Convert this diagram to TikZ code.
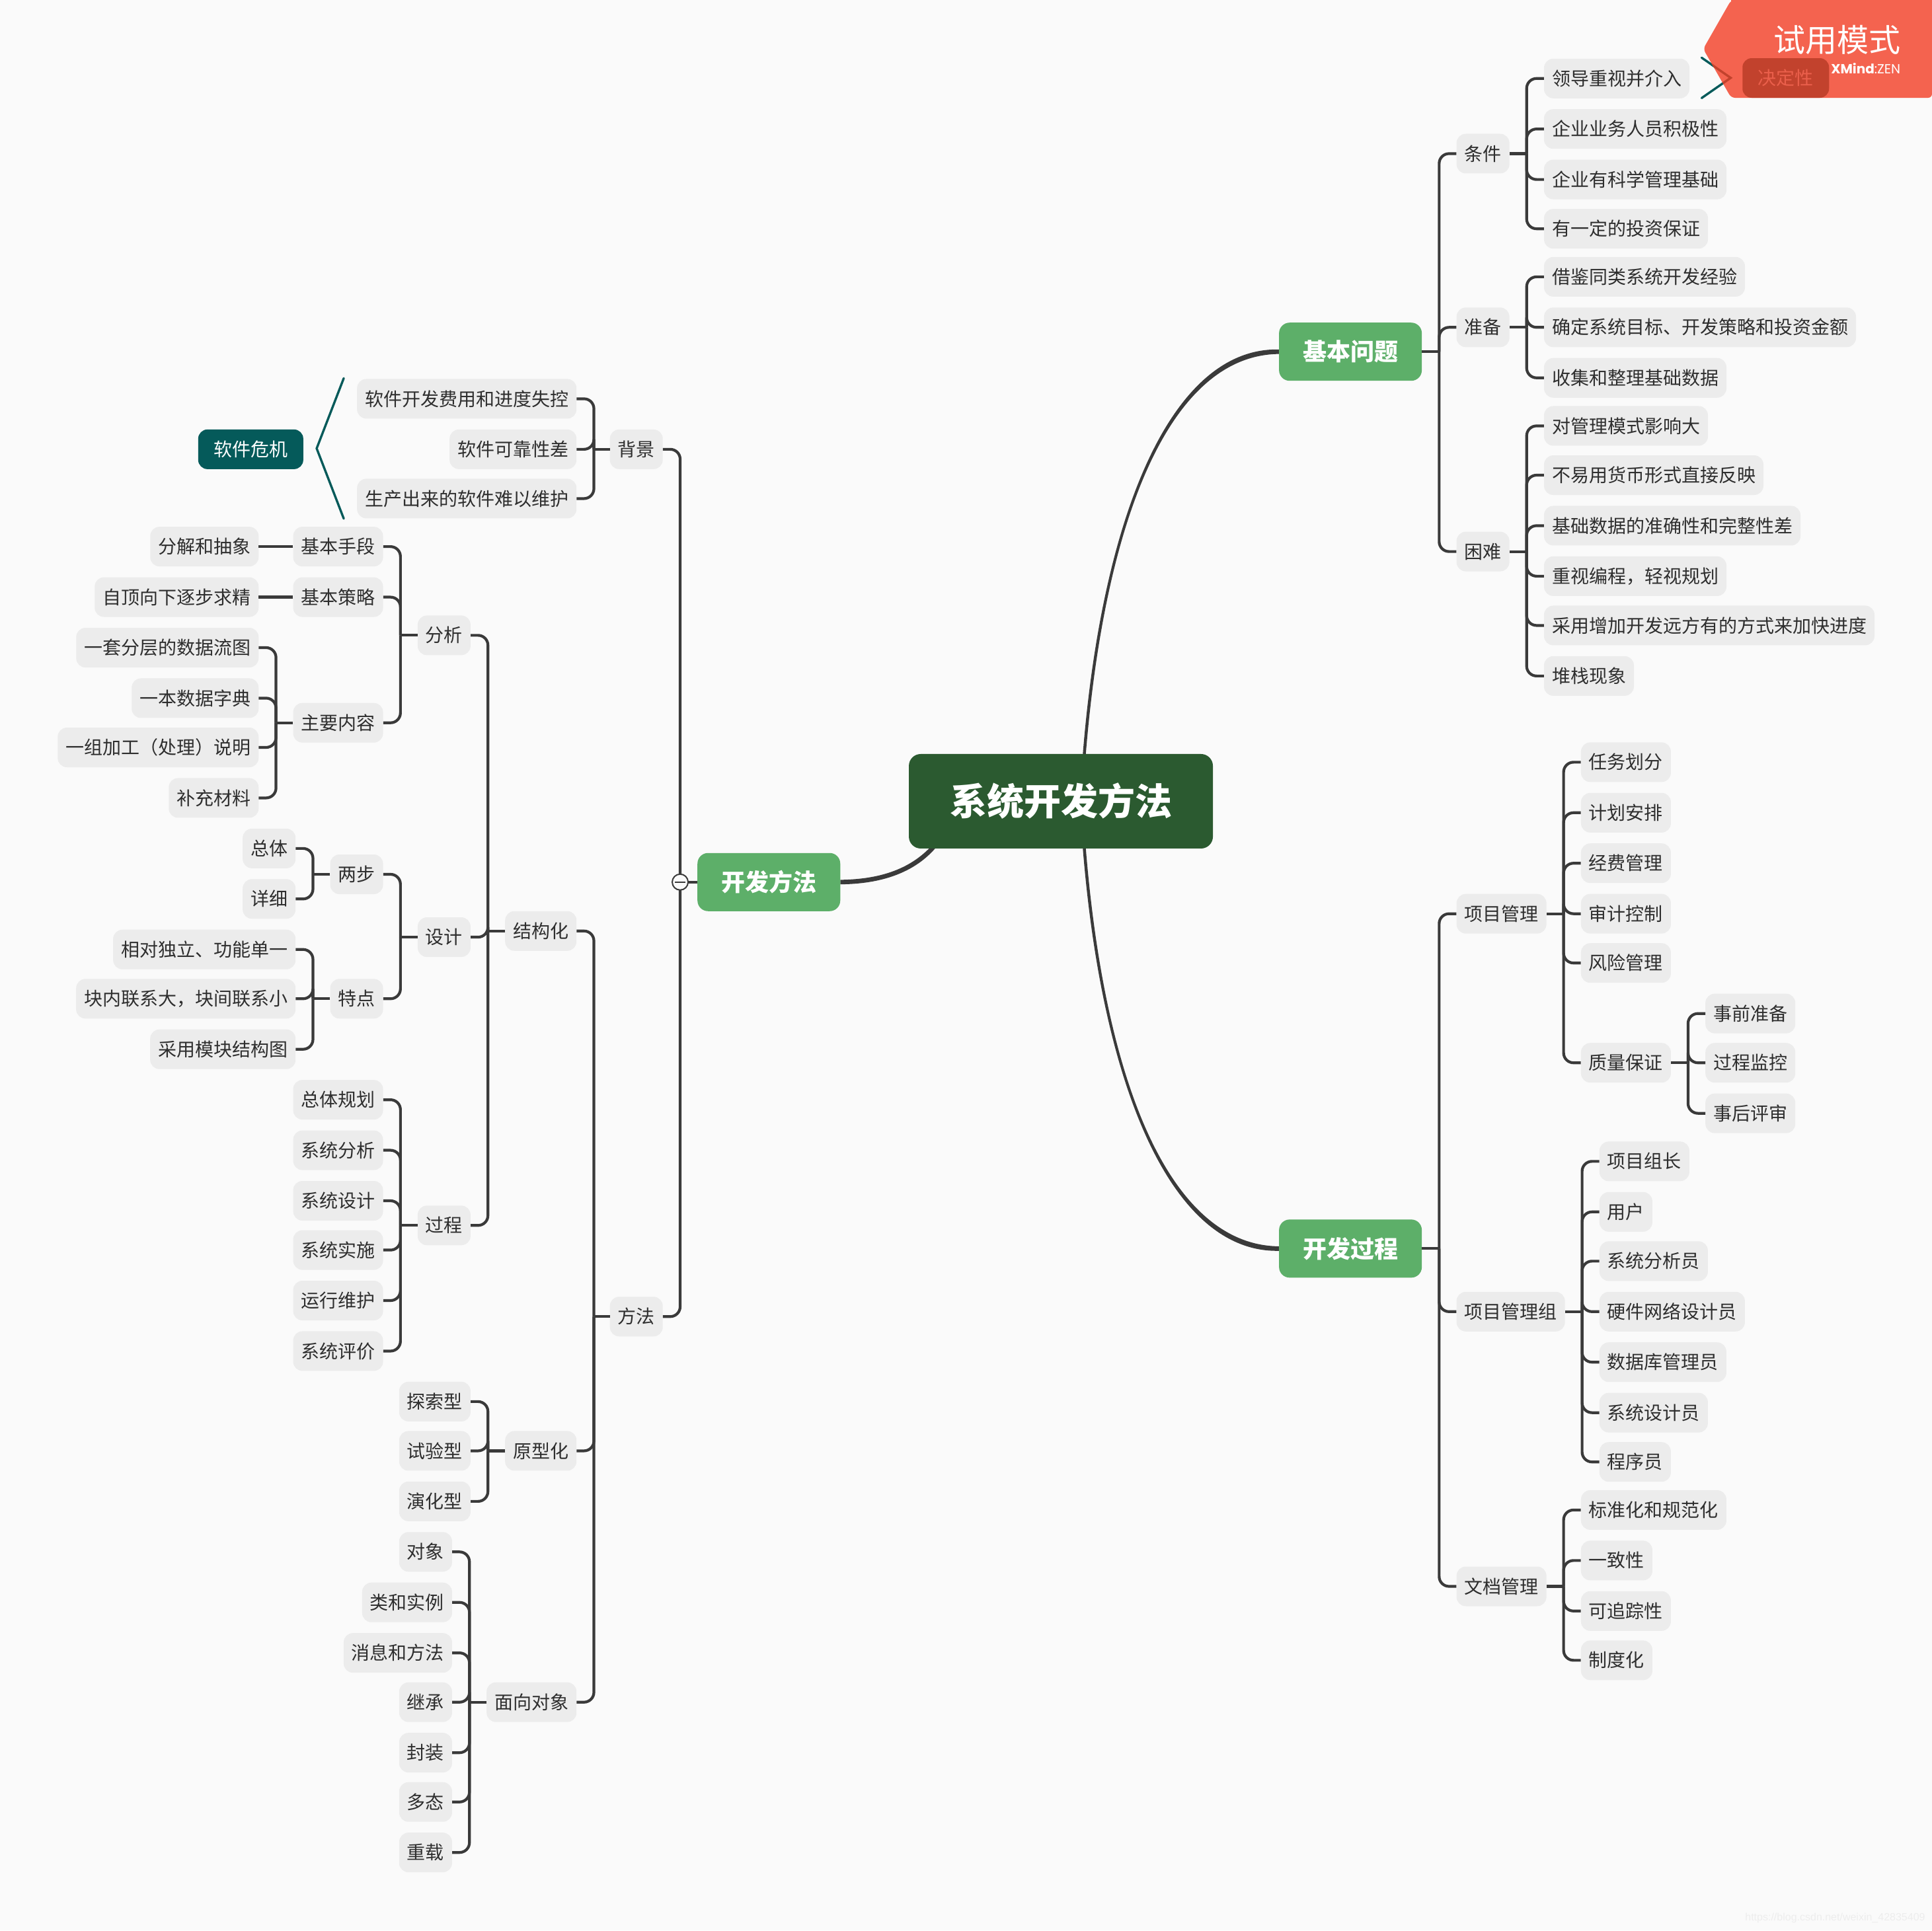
\documentclass[tikz,border=0pt]{standalone}
\usepackage{fontspec}
\setmainfont{Noto Sans CJK SC}
\newfontfamily\latinsans{Poppins}
\newfontfamily\wmfont{Liberation Sans}
\definecolor{bgc}{HTML}{FAFAFA}
\definecolor{tpc}{HTML}{ECECEC}
\definecolor{txc}{HTML}{2E2E2E}
\definecolor{lnc}{HTML}{3A3A3A}
\definecolor{grn}{HTML}{5DAF69}
\definecolor{drk}{HTML}{2B5A30}
\definecolor{tealc}{HTML}{055A5A}
\definecolor{ban}{HTML}{F4634F}
\definecolor{banD}{HTML}{C2422D}
\definecolor{banT}{HTML}{EA5F4B}
\pgfdeclarelayer{back}
\pgfsetlayers{back,main}
\tikzset{
  tp/.style={fill=tpc,text=txc,rounded corners=14pt,minimum height=60pt,inner xsep=12pt,inner ysep=0pt,
    font=\fontsize{28pt}{28pt}\selectfont,text height=24.6pt,text depth=3.4pt},
  conn/.style={draw=lnc,line width=4.2pt},
  curve/.style={fill=lnc,draw=none},
  mtopic/.style={fill=grn,text=white,rounded corners=16pt,minimum width=216pt,minimum height=88pt,inner sep=0pt,
    font=\fontsize{36pt}{36pt}\selectfont\bfseries,text height=31.7pt,text depth=4.3pt},
  bracket/.style={draw=tealc,line width=3.4pt,line cap=round},
}
\newcommand\rgt[4]{\node[tp,anchor=west] (#1) at (#2,#3+0.7) {#4};}
\newcommand\lft[4]{\node[tp,anchor=east] (#1) at (#2,#3+0.7) {#4};}
\newcommand\rtree[3]{%
  \coordinate (tx) at (#2,0);
  \draw[conn] (#1.east) -- (tx |- #1.east);
  \foreach \kid in {#3}{\draw[conn,rounded corners=15pt] (tx |- #1.east) -- (tx |- \kid.west) -- (\kid.west);}
}
\newcommand\ltree[3]{%
  \coordinate (tx) at (#2,0);
  \draw[conn] (#1.west) -- (tx |- #1.west);
  \foreach \kid in {#3}{\draw[conn,rounded corners=15pt] (tx |- #1.west) -- (tx |- \kid.east) -- (\kid.east);}
}
\begin{document}
\begin{tikzpicture}[x=1.86416pt,y=-1.86416pt]
\begin{pgfonlayer}{back}
\fill[bgc] (0,0) rectangle (1568,1567);
\end{pgfonlayer}
\useasboundingbox (0,0) rectangle (1568,1567);

% root and main topics
\node[fill=drk,text=white,rounded corners=18pt,minimum width=460pt,minimum height=143pt,inner sep=0pt,
  font=\fontsize{56pt}{56pt}\selectfont\bfseries,text height=49.3pt,text depth=6.7pt] (root) at (861,650.4) {系统开发方法};
\node[mtopic] (jb) at (1096,285.5) {基本问题};
\node[mtopic] (gc) at (1096,1013.5) {开发过程};
\node[mtopic] (ff) at (624,716) {开发方法};

% right: basic questions
\rgt{tj}{1182}{124}{条件}
\rgt{zb}{1182}{265}{准备}
\rgt{kn}{1182}{447}{困难}
\rgt{a1}{1253}{63}{领导重视并介入}
\rgt{a2}{1253}{104}{企业业务人员积极性}
\rgt{a3}{1253}{145}{企业有科学管理基础}
\rgt{a4}{1253}{185}{有一定的投资保证}
\rgt{b1}{1253}{224}{借鉴同类系统开发经验}
\rgt{b2}{1253}{265}{确定系统目标、开发策略和投资金额}
\rgt{b3}{1253}{306}{收集和整理基础数据}
\rgt{c1}{1253}{345}{对管理模式影响大}
\rgt{c2}{1253}{385}{不易用货币形式直接反映}
\rgt{c3}{1253}{426}{基础数据的准确性和完整性差}
\rgt{c4}{1253}{467}{重视编程，轻视规划}
\rgt{c5}{1253}{507}{采用增加开发远方有的方式来加快进度}
\rgt{c6}{1253}{548}{堆栈现象}
\rtree{jb}{1168}{tj,zb,kn}
\rtree{tj}{1239}{a1,a2,a3,a4}
\rtree{zb}{1239}{b1,b2,b3}
\rtree{kn}{1239}{c1,c2,c3,c4,c5,c6}

% right: process
\rgt{xm}{1182}{741}{项目管理}
\rgt{xz}{1182}{1064}{项目管理组}
\rgt{wd}{1182}{1287}{文档管理}
\rgt{d1}{1283}{618}{任务划分}
\rgt{d2}{1283}{659}{计划安排}
\rgt{d3}{1283}{700}{经费管理}
\rgt{d4}{1283}{741}{审计控制}
\rgt{d5}{1283}{781}{风险管理}
\rgt{d6}{1283}{862}{质量保证}
\rgt{e1}{1384}{822}{事前准备}
\rgt{e2}{1384}{862}{过程监控}
\rgt{e3}{1384}{903}{事后评审}
\rgt{f1}{1298}{942}{项目组长}
\rgt{f2}{1298}{983}{用户}
\rgt{f3}{1298}{1023}{系统分析员}
\rgt{f4}{1298}{1064}{硬件网络设计员}
\rgt{f5}{1298}{1105}{数据库管理员}
\rgt{f6}{1298}{1146}{系统设计员}
\rgt{f7}{1298}{1186}{程序员}
\rgt{g1}{1283}{1225}{标准化和规范化}
\rgt{g2}{1283}{1266}{一致性}
\rgt{g3}{1283}{1307}{可追踪性}
\rgt{g4}{1283}{1347}{制度化}
\rtree{gc}{1168}{xm,xz,wd}
\rtree{xm}{1269}{d1,d2,d3,d4,d5,d6}
\rtree{d6}{1370}{e1,e2,e3}
\rtree{xz}{1284}{f1,f2,f3,f4,f5,f6,f7}
\rtree{wd}{1269}{g1,g2,g3,g4}

% left
\lft{bj}{538}{364}{背景}
\lft{ffa}{538}{1068}{方法}
\lft{h1}{468}{323}{软件开发费用和进度失控}
\lft{h2}{468}{364}{软件可靠性差}
\lft{h3}{468}{404}{生产出来的软件难以维护}
\lft{jg}{468}{755}{结构化}
\lft{yx}{468}{1177}{原型化}
\lft{mx}{468}{1381}{面向对象}
\lft{fx}{382}{515}{分析}
\lft{sj}{382}{760}{设计}
\lft{gg}{382}{994}{过程}
\lft{i1}{311}{443}{基本手段}
\lft{i2}{311}{484}{基本策略}
\lft{i3}{311}{586}{主要内容}
\lft{j1}{210}{443}{分解和抽象}
\lft{j2}{210}{484}{自顶向下逐步求精}
\lft{k1}{210}{525}{一套分层的数据流图}
\lft{k2}{210}{566}{一本数据字典}
\lft{k3}{210}{606}{一组加工（处理）说明}
\lft{k4}{210}{647}{补充材料}
\lft{l1}{311}{709}{两步}
\lft{l2}{311}{810}{特点}
\lft{m1}{240}{688}{总体}
\lft{m2}{240}{729}{详细}
\lft{n1}{240}{770}{相对独立、功能单一}
\lft{n2}{240}{810}{块内联系大，块间联系小}
\lft{n3}{240}{851}{采用模块结构图}
\lft{o1}{311}{892}{总体规划}
\lft{o2}{311}{933}{系统分析}
\lft{o3}{311}{974}{系统设计}
\lft{o4}{311}{1014}{系统实施}
\lft{o5}{311}{1055}{运行维护}
\lft{o6}{311}{1096}{系统评价}
\lft{p1}{382}{1137}{探索型}
\lft{p2}{382}{1177}{试验型}
\lft{p3}{382}{1218}{演化型}
\lft{q1}{367}{1259}{对象}
\lft{q2}{367}{1300}{类和实例}
\lft{q3}{367}{1341}{消息和方法}
\lft{q4}{367}{1381}{继承}
\lft{q5}{367}{1422}{封装}
\lft{q6}{367}{1462}{多态}
\lft{q7}{367}{1503}{重载}
\ltree{ff}{552}{bj,ffa}
\ltree{bj}{482}{h1,h2,h3}
\ltree{ffa}{482}{jg,yx,mx}
\ltree{jg}{396}{fx,sj,gg}
\ltree{fx}{325}{i1,i2,i3}
\draw[conn] (i1.west) -- (j1.east);
\draw[conn] (i2.west) -- (j2.east);
\ltree{i3}{224}{k1,k2,k3,k4}
\ltree{sj}{325}{l1,l2}
\ltree{l1}{254}{m1,m2}
\ltree{l2}{254}{n1,n2,n3}
\ltree{gg}{325}{o1,o2,o3,o4,o5,o6}
\ltree{yx}{396}{p1,p2,p3}
\ltree{mx}{381}{q1,q2,q3,q4,q5,q6,q7}

% collapse marker
\node[circle,draw=lnc,fill=bgc,line width=2pt,minimum size=24pt,inner sep=0pt] (cm) at (552,716) {};
\draw[lnc,line width=2.4pt] ([xshift=5pt]cm.west) -- ([xshift=-5pt]cm.east);

% main curves
\begin{pgfonlayer}{back}
\fill[curve] ([xshift=32pt,yshift=56pt]root.center) .. controls (893,420) and (950,281.8) .. ([yshift=3.4pt]jb.west)
  -- ([yshift=-3.4pt]jb.west) .. controls (950,288.2) and (895.6,420) .. ([xshift=36.5pt,yshift=56pt]root.center) -- cycle;
\fill[curve] ([xshift=32pt,yshift=-56pt]root.center) .. controls (893,880) and (950,1017.2) .. ([yshift=-3.4pt]gc.west)
  -- ([yshift=3.4pt]gc.west) .. controls (950,1010.8) and (895.6,880) .. ([xshift=36.5pt,yshift=-56pt]root.center) -- cycle;
\fill[curve] ([xshift=-198pt,yshift=-70pt]root.center) .. controls (735,708.5) and (708,713.8) .. ([yshift=3.4pt]ff.east)
  -- ([yshift=-3.4pt]ff.east) .. controls (710,717.6) and (740,711) .. ([xshift=-189pt,yshift=-70pt]root.center) -- cycle;
\end{pgfonlayer}

% software crisis callout
\node[fill=tealc,text=white,rounded corners=14pt,minimum width=159pt,minimum height=60pt,inner sep=0pt,
  font=\fontsize{28pt}{28pt}\selectfont,text height=24.6pt,text depth=3.4pt] (rj) at (203.5,364.7) {软件危机};
\coordinate (v1a) at (279,307);
\coordinate (v1b) at (257,364);
\coordinate (v1c) at (279,421);
\draw[bracket] (v1a) -- (v1b) -- (v1c);

% top-right callout and trial banner
\coordinate (v2a) at (1381,46.8);
\coordinate (v2b) at (1404.6,63.2);
\coordinate (v2c) at (1381,79.6);
\draw[bracket] (v2a) -- (v2b) -- (v2c);
\fill[ban,rounded corners=6pt] (1405,0) -- (1382.3,39.7) -- (1405,79.4) -- (1568,79.4) -- (1568,0) -- cycle;
\fill[ban] (1405,0) rectangle (1412,3);
\fill[ban] (1560,0) rectangle (1568,3);
\begin{scope}
\clip (1405,0) -- (1382.3,39.7) -- (1405,79.4) -- (1568,79.4) -- (1568,0) -- cycle;
\draw[draw=banD,line width=3.4pt] (v2a) -- (v2b) -- (v2c);
\end{scope}
\node[fill=banD,text=banT,rounded corners=14pt,minimum width=131pt,minimum height=60pt,inner sep=0pt,
  font=\fontsize{28pt}{28pt}\selectfont,text height=24.6pt,text depth=3.4pt] (jd) at (1449.3,63.3) {决定性};
\node[anchor=east,text=white,inner sep=0pt,font=\fontsize{48pt}{48pt}\selectfont,text height=42pt,text depth=6pt] (sy) at (1542.5,32.5) {试用模式};
\node[anchor=east,text=white,inner sep=0pt,font=\fontsize{20pt}{20pt}\selectfont\latinsans] (xm2) at (1542.5,55.5) {\textbf{XMind}:ZEN};

% watermark
\node[anchor=east,text=black!7,inner sep=0pt,font=\fontsize{16pt}{16pt}\selectfont\wmfont] (wm) at (1562.5,1557) {https://blog.csdn.net/weixin\_42835409};
\end{tikzpicture}
\end{document}
